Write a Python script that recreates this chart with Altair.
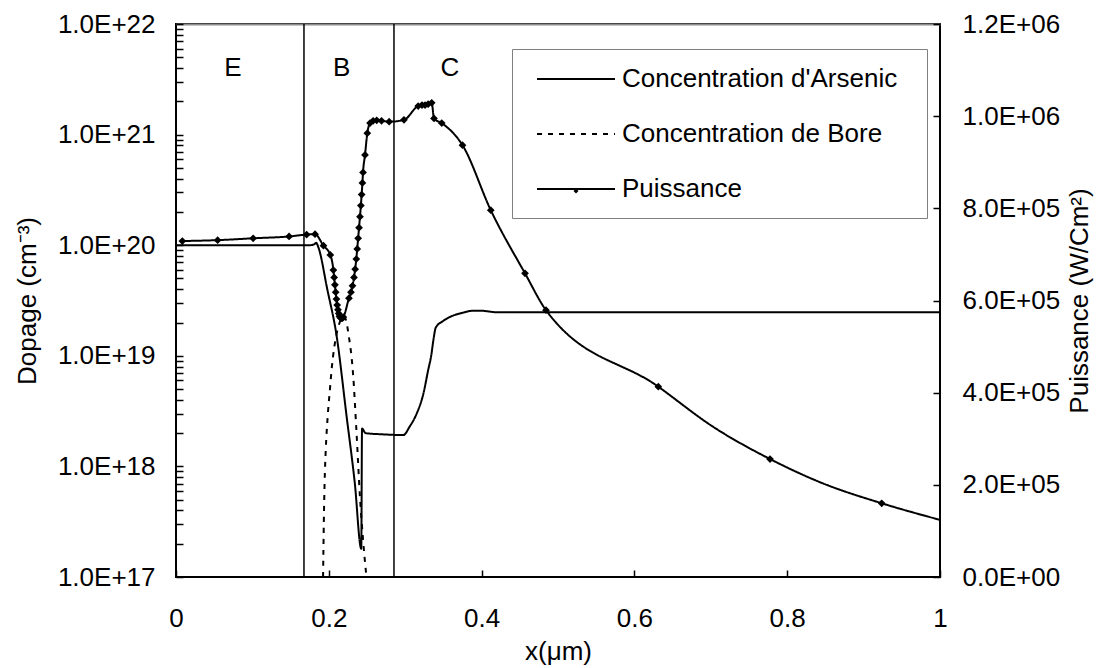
import altair as alt
import pandas as pd

FONT = "Liberation Sans"

series_names = ["Concentration d'Arsenic", "Concentration de Bore", "Puissance"]

# Concentration d'Arsenic (cm^-3)
arsenic_x = [0.0, 0.175, 0.181, 0.1835, 0.1865, 0.198, 0.210, 0.2234, 0.234, 0.2425,
             0.2435, 0.248, 0.270, 0.2975, 0.306, 0.315, 0.324, 0.330, 0.334, 0.337,
             0.340, 0.349, 0.362, 0.375, 0.388, 0.401, 0.418, 0.450, 1.0]
arsenic_v = [1.0e20, 1.0e20, 1.02e20, 1.05e20, 9.5e19, 4.0e19, 1.55e19, 2.8e18, 7.1e17, 1.8e17,
             2.2e18, 2.0e18, 1.95e18, 1.92e18, 2.3e18, 3.0e18, 4.6e18, 7.4e18, 1.0e19, 1.4e19,
             1.8e19, 2.05e19, 2.3e19, 2.45e19, 2.55e19, 2.55e19, 2.48e19, 2.47e19, 2.47e19]

# Concentration de Bore (cm^-3)
bore_x = [0.1925, 0.1935, 0.1945, 0.196, 0.1985, 0.2015, 0.204, 0.210, 0.2155, 0.219,
          0.2225, 0.2256, 0.232, 0.236, 0.241, 0.245, 0.2487, 0.2500]
bore_v = [1.0e17, 3.2e17, 7.1e17, 1.4e18, 2.8e18, 5.0e18, 7.9e18, 1.55e19, 2.1e19, 2.3e19,
          2.1e19, 1.6e19, 6.5e18, 2.2e18, 5.0e17, 2.1e17, 1.1e17, 9.0e16]

# Puissance (W/cm^2) - points with markers
power_x = [0.0083, 0.0545, 0.101, 0.148, 0.171, 0.182, 0.193, 0.2020,
           0.206, 0.207, 0.208, 0.209, 0.210, 0.211, 0.212, 0.213, 0.214, 0.215, 0.216, 0.217, 0.218, 0.219,
           0.2264, 0.2290, 0.2310, 0.2330, 0.2345, 0.2360, 0.2372, 0.2384, 0.2396, 0.2408, 0.2420, 0.2430,
           0.2440, 0.2448, 0.2474, 0.2504, 0.2540, 0.2580, 0.2627, 0.2690, 0.2790, 0.2984,
           0.3170, 0.3220, 0.3260, 0.3300, 0.3347, 0.3377, 0.3478, 0.3750, 0.4120, 0.4568, 0.4843,
           0.6313, 0.7775, 0.9237]
power_v = [729000, 731000, 735000, 739000, 743000, 744000, 719000, 699000,
           666000, 650000, 634000, 618000, 603000, 590000, 580000, 572000, 566000, 563000, 562000, 562000, 562000, 564000,
           605000, 618000, 632000, 650000, 668000, 690000, 712000, 735000, 758000, 782000, 806000, 830000,
           855000, 878000, 916000, 963000, 985000, 990000, 991000, 990000, 988000, 992000,
           1022000, 1024000, 1024000, 1026000, 1029000, 995000, 985000, 937000, 796000, 659000, 579000,
           413000, 256000, 160000]
# Puissance - curve readings between markers (no marker drawn)
power_curve_x = [0.703, 0.847, 1.0]
power_curve_v = [326000, 203000, 124000]

# Zones
zone_labels = ["E", "B", "C"]
zone_x = [0.0746, 0.2169, 0.3586]
boundary_x = [0.1675, 0.2853]

# Ticks
x_ticks = [0, 0.2, 0.4, 0.6, 0.8, 1.0]
log_ticks = [float(m) * 10.0 ** k for k in range(17, 22) for m in range(1, 10)] + [1e22]
power_ticks = [0, 200000, 400000, 600000, 800000, 1000000, 1200000]

conc_df = pd.DataFrame({
    "x": arsenic_x + bore_x,
    "v": arsenic_v + bore_v,
    "serie": [series_names[0]] * len(arsenic_x) + [series_names[1]] * len(bore_x),
})
power_line_df = pd.DataFrame({
    "x": power_x + power_curve_x,
    "p": power_v + power_curve_v,
    "serie": series_names[2],
})
power_pts_df = pd.DataFrame({"x": power_x, "p": power_v, "serie": series_names[2]})
zones_df = pd.DataFrame({"x": zone_x, "t": zone_labels})
bounds_df = pd.DataFrame({"x": boundary_x})

TICK = 7
X_SCALE = alt.Scale(domain=[0, 1], nice=False, zero=False)

X = alt.X(
    "x:Q", scale=X_SCALE,
    axis=alt.Axis(
        values=x_ticks, format="~g", title="x(μm)", labelFlush=False,
        offset=-TICK, ticks=True, tickSize=TICK, tickWidth=1.5, tickColor="black",
        grid=False, domain=False, labelPadding=28, titlePadding=7,
    ),
)
X_TOP = alt.X(
    "x:Q", scale=X_SCALE,
    axis=alt.Axis(
        orient="top", labels=False, ticks=False, grid=False, title=None,
        domain=True, domainColor="#8c8c8c", domainWidth=2,
    ),
)

Y_LEFT = alt.Y(
    "v:Q",
    scale=alt.Scale(type="log", domain=[1e17, 1e22], nice=False),
    axis=alt.Axis(
        values=log_ticks,
        labelExpr="abs(log(datum.value)/LN10 - round(log(datum.value)/LN10)) < 0.001 ? '1.0E+' + round(log(datum.value)/LN10) : ''",
        labelOverlap=False, labelFlush=False,
        offset=-TICK, ticks=True, tickSize=TICK, tickWidth=1.5, tickColor="black",
        grid=False, domain=False, labelPadding=21,
        title="Dopage (cm⁻³)", titlePadding=17,
    ),
)

Y_RIGHT = alt.Y(
    "p:Q",
    scale=alt.Scale(domain=[0, 1200000], nice=False, zero=True),
    axis=alt.Axis(
        orient="right", values=power_ticks,
        labelExpr="datum.value == 0 ? '0.0E+00' : format(datum.value / pow(10, floor(log(datum.value)/LN10 + 1e-9)), '.1f') + 'E+' + (floor(log(datum.value)/LN10 + 1e-9) < 10 ? '0' : '') + floor(log(datum.value)/LN10 + 1e-9)",
        labelOverlap=False, labelFlush=False,
        offset=-TICK, ticks=True, tickSize=TICK, tickWidth=1.5, tickColor="black",
        grid=False, domain=False, labelPadding=22,
        title="Puissance (W/Cm²)", titleAngle=270, titleBaseline="top", titlePadding=7,
    ),
)

dash_scale = alt.Scale(domain=series_names, range=[[1, 0], [5, 6], [1, 0]])
legend_a = alt.Legend(
    orient="none", legendX=336, legendY=25,
    title=".", titleOrient="right", titleColor="white", titleFontSize=10, titlePadding=11,
    symbolType="M-3,0H3", symbolSize=676, symbolStrokeWidth=2, symbolStrokeColor="black",
    symbolOffset=34, labelOffset=32, rowPadding=28, padding=16,
    strokeColor="#7f7f7f", fillColor="white",
    labelFont=FONT, labelFontSize=26, labelColor="black", labelLimit=500,
)
legend_b = alt.Legend(
    orient="none", legendX=395, legendY=162, title=None,
    symbolSize=25, symbolFillColor="black", symbolStrokeColor="black", symbolStrokeWidth=0,
    labelExpr="''", labelFontSize=10, padding=0,
)

rules = alt.Chart(bounds_df).mark_rule(color="black", strokeWidth=1.5).encode(x=X)
conc_lines = alt.Chart(conc_df).mark_line(
    interpolate="monotone", clip=True, color="black", strokeWidth=2
).encode(
    x=X, y=Y_LEFT,
    strokeDash=alt.StrokeDash("serie:N", scale=dash_scale, legend=legend_a),
)
zone_text = alt.Chart(zones_df).mark_text(
    font=FONT, fontSize=26, color="black", align="center", baseline="middle"
).encode(x=X, y=alt.value(44), text="t:N")

left_layer = alt.layer(rules, conc_lines, zone_text)

power_line = alt.Chart(power_line_df).mark_line(
    interpolate="monotone", clip=True, color="black", strokeWidth=2
).encode(
    x=X_TOP, y=Y_RIGHT,
    strokeDash=alt.StrokeDash("serie:N", scale=dash_scale, legend=legend_a),
)
power_pts = alt.Chart(power_pts_df).mark_point(
    filled=True, color="black", size=60, opacity=1, clip=True
).encode(
    x=X_TOP, y=Y_RIGHT,
    shape=alt.Shape("serie:N", scale=alt.Scale(domain=[series_names[2]], range=["diamond"]), legend=legend_b),
)
right_layer = alt.layer(power_line, power_pts)

chart = alt.layer(left_layer, right_layer).resolve_scale(
    y="independent"
).resolve_axis(
    x="independent"
).properties(
    width=764, height=553,
    autosize=alt.AutoSizeParams(type="none"),
    padding={"left": 176, "top": 24, "right": 159, "bottom": 91},
    background="white",
).configure_view(
    stroke="black", strokeWidth=2
).configure_axis(
    labelFont=FONT, titleFont=FONT, labelFontSize=26, titleFontSize=26,
    labelColor="black", titleColor="black", titleFontWeight="normal",
)

chart.save("out.html", embed_options={"renderer": "svg", "actions": False})
